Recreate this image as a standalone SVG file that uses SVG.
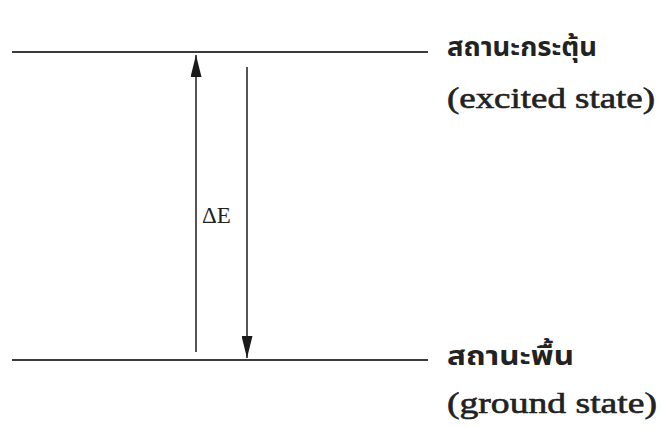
<svg xmlns="http://www.w3.org/2000/svg" width="661" height="428" viewBox="0 0 661 428">
<style>
.lvl{stroke:#3a3a3a;stroke-width:2;fill:none}
.arr{stroke:#2a2a2a;stroke-width:1.6;fill:none}
.th{font-family:"Noto Sans Thai","Noto Serif Thai","Liberation Serif","DejaVu Sans",sans-serif;font-size:26px;font-weight:bold;fill:#222}
.en{font-family:"Liberation Serif",serif;font-size:30px;fill:#222;stroke:#222;stroke-width:0.6}
.lb{font-family:"Liberation Serif",serif;font-size:23px;fill:#222}
</style>
<defs>
<marker id="ah" viewBox="0 0 10 10" refX="10" refY="5" markerWidth="22" markerHeight="11" markerUnits="userSpaceOnUse" orient="auto" preserveAspectRatio="none">
<path d="M0,0 L10,5 L0,10 Z" fill="#1a1a1a"/>
</marker>
</defs>
<g id="excited">
<line class="lvl" x1="12" y1="52" x2="428" y2="52"/>
<text class="th" x="447" y="56" textLength="150" lengthAdjust="spacingAndGlyphs">สถานะกระตุ้น</text>
<text class="en" x="447" y="108" textLength="208" lengthAdjust="spacingAndGlyphs">(excited state)</text>
</g>
<g id="ground">
<line class="lvl" x1="12" y1="360" x2="428" y2="360"/>
<text class="th" x="447" y="365" textLength="127" lengthAdjust="spacingAndGlyphs">สถานะพื้น</text>
<text class="en" x="447" y="413" textLength="210" lengthAdjust="spacingAndGlyphs">(ground state)</text>
</g>
<g id="connectors">
<line class="arr" x1="196" y1="352" x2="196" y2="55" marker-end="url(#ah)"/>
<line class="arr" x1="247" y1="67" x2="247" y2="358" marker-end="url(#ah)"/>
</g>
<g id="deltaE">
<text class="lb" x="202" y="223">ΔE</text>
</g>
</svg>
